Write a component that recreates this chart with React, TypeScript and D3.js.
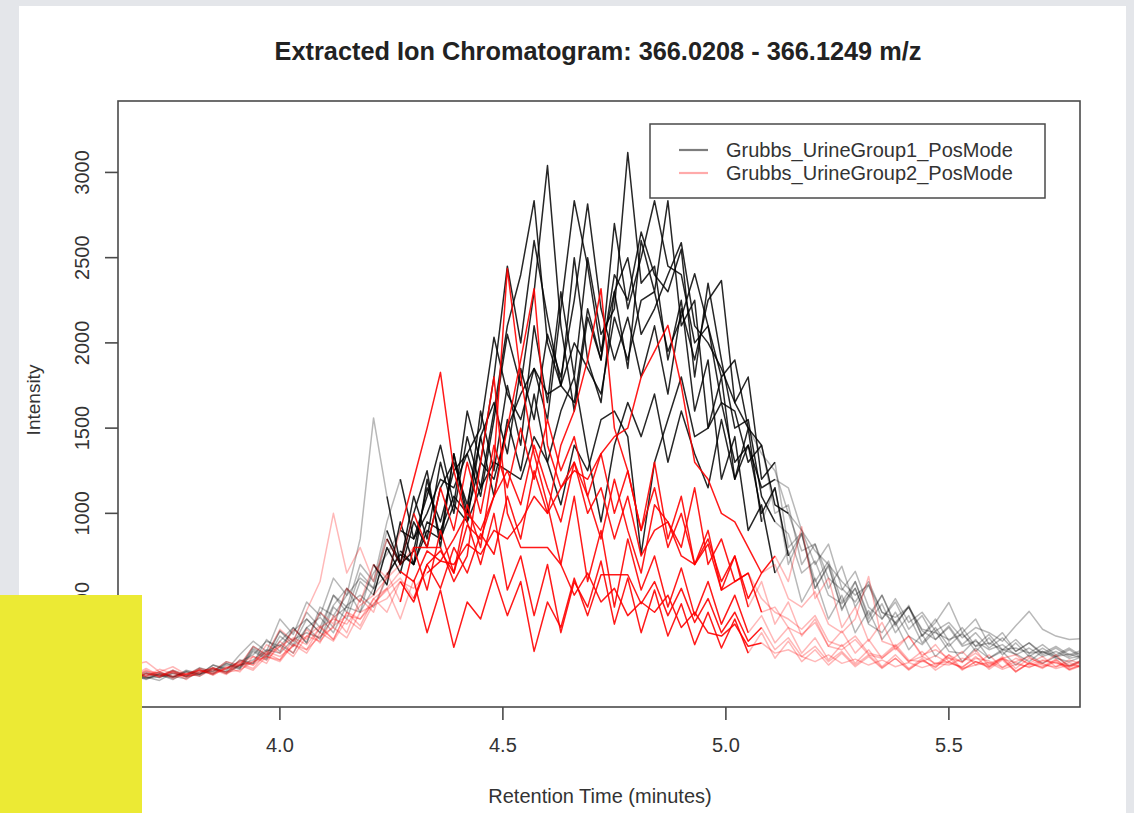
import React from "react";
import * as d3 from "d3";

// ---------- DATA ----------
const title = "Extracted Ion Chromatogram: 366.0208 - 366.1249 m/z";
const xLabel = "Retention Time (minutes)";
const yLabel = "Intensity";
const xTicks = [4.0, 4.5, 5.0, 5.5];
const yTicks = [0, 500, 1000, 1500, 2000, 2500, 3000];
const legendLabels = ["Grubbs_UrineGroup1_PosMode", "Grubbs_UrineGroup2_PosMode"];

// retention times (minutes) of the scans
const times = [
  3.64, 3.67, 3.70, 3.73, 3.76, 3.79, 3.82, 3.85, 3.88, 3.91,
  3.94, 3.97, 4.00, 4.03, 4.06, 4.09, 4.12, 4.15, 4.18, 4.21,
  4.24, 4.27, 4.30, 4.33, 4.36, 4.39, 4.42, 4.45, 4.48, 4.51,
  4.54, 4.57, 4.60, 4.63, 4.66, 4.69, 4.72, 4.75, 4.78, 4.81,
  4.84, 4.87, 4.90, 4.93, 4.96, 4.99, 5.02, 5.05, 5.08, 5.11,
  5.14, 5.17, 5.20, 5.23, 5.26, 5.29, 5.32, 5.35, 5.38, 5.41,
  5.44, 5.47, 5.50, 5.53, 5.56, 5.59, 5.62, 5.65, 5.68, 5.71,
  5.74, 5.77, 5.80,
];

// Group 1 (black)
const g1s1 = [40,65,30,55,25,70,45,95,70,140, 120,260,190,330,240,420,330,560,420,700, 580,950,700,1200,850,1350,1000,1600,1250,1750, 1400,2100,1650,2300,1800,2500,2050,2200,3117,2350, 2450,1900,2250,1600,1900,1200,1450,900,1050,650, 780,480,620,380,520,300,430,260,360,200, 290,160,240,130,210,150,190,110,170,120, 160,105,140];
const g1s2 = [45,30,60,50,35,80,60,75,120,95, 210,160,250,330,240,450,400,520,620,560, 850,700,780,1150,950,1250,1350,1100,1550,2050, 1750,2300,3040,2100,1600,2150,1900,2400,2250,2650, 2400,2300,2550,1800,2350,1900,1500,1550,1100,950, 880,650,720,520,470,560,350,300,420,280, 230,310,190,180,260,150,200,175,130,190, 150,130,160];
const g1s3 = [50,30,60,35,75,40,90,60,120,90, 200,150,310,230,380,300,520,420,650,560, 900,700,1100,850,1300,1000,1450,1150,1600,2100, 2400,2834,2000,1750,2500,1900,1650,2300,1850,2600, 2300,2834,2100,2250,1500,1800,1200,1500,950,1150, 700,880,560,690,440,560,360,470,300,400, 240,330,220,300,190,270,170,240,160,210, 160,200,150];
const g1s4 = [45,25,35,60,45,30,70,90,60,110, 120,190,230,180,330,390,300,460,520,450, 620,780,700,950,900,1100,1000,1300,1200,1500, 1700,1850,1550,2200,2834,2450,1950,2300,2500,2050, 2200,2400,2588,2100,2000,1850,1650,1500,1400,1050, 1000,780,820,620,550,660,450,380,500,360, 420,310,360,270,330,300,250,340,425,320, 280,260,265];
const g1s5 = [35,60,40,20,65,45,80,55,110,85, 190,140,280,220,330,260,450,380,600,520, 800,650,950,800,1150,1300,1050,1450,1650,1350, 1850,1550,2050,1800,2250,2815,2200,1900,2150,1800, 2100,1700,2200,1900,2250,2366,1650,1800,1200,1300, 800,886,560,700,430,600,380,520,340,460, 280,360,477,300,380,230,300,190,240,170, 210,160,190];
const g1s6 = [35,55,45,70,40,75,55,110,90,130, 170,250,220,310,380,300,460,560,480,650, 760,900,850,1000,1200,1150,1350,1500,2033,1700, 1550,1850,1700,1750,2000,1850,1700,2150,1900,2250, 2300,1950,2150,2406,2100,1800,1900,1500,1350,1250, 1000,900,700,820,560,480,600,420,360,450, 310,260,330,220,250,200,230,170,210,160, 190,150,165];
const g1s7 = [30,50,25,60,40,70,55,110,80,170, 250,190,380,290,480,400,620,520,850,1560, 1100,700,1000,1250,800,1350,950,1450,1100,1550, 1250,1700,1300,1600,1800,1350,950,1400,1650,1450, 1700,1300,1600,1350,1150,1550,1200,1400,1000,1150, 750,880,600,720,480,600,400,520,350,450, 280,380,250,330,220,290,200,260,180,230, 170,210,160];
const g1s8 = [30,50,35,40,60,45,55,85,70,110, 140,200,180,260,300,270,390,450,420,560, 640,760,700,900,850,1050,950,1150,1300,1250, 1200,1450,1300,1050,1400,1250,1550,1600,1450,760, 1300,1550,1800,1450,1500,1650,1300,1400,1150,1200, 1150,900,780,700,600,520,580,420,390,450, 320,300,260,290,220,240,200,210,180,190, 160,175,150];
const g1s9 = [55,35,70,45,80,50,95,70,130,100, 220,170,310,250,420,330,520,450,700,600, 950,1200,850,1100,1400,1050,1600,1300,1800,2450, 2000,2600,2150,1750,1650,2200,1900,2700,2200,2500, 2834,2450,2400,2000,2100,1650,1600,1300,1400,1000, 1050,700,820,560,690,450,580,380,480,320, 400,260,340,230,300,210,270,190,240,180, 220,170,200];

// Group 2 (red)
const g2s1 = [60,30,80,40,70,25,85,50,100,70, 160,120,250,180,320,240,400,300,500,420, 650,480,800,550,900,650,1050,800,1300,2436, 1800,1350,1050,700,1100,600,900,450,850,550, 750,450,680,400,600,350,520,300,400,240, 330,180,270,140,230,120,200,100,170,90, 150,80,130,95,160,85,140,70,120,95, 130,80,110];
const g2s2 = [55,45,75,60,40,55,80,60,90,130, 110,170,220,160,280,340,260,420,380,470, 550,620,500,700,780,650,930,850,1100,1500, 1900,2318,1400,1150,1300,1000,1150,850,1100,750, 900,950,750,700,820,550,600,650,420,450, 330,290,360,220,200,260,170,150,210,130, 160,120,110,150,130,100,145,125,95,135, 120,100,130];
const g2s3 = [70,45,90,50,75,40,60,95,65,120, 90,180,140,260,200,330,260,420,340,500, 420,600,480,700,560,800,650,880,760,1100, 850,1250,1000,1400,1600,1900,2318,1500,1250,900, 1300,850,1100,700,900,550,750,450,600,350, 480,280,380,220,310,180,260,150,220,130, 190,110,170,125,200,100,160,90,150,120, 170,95,140];
const g2s4 = [70,55,45,85,60,40,65,90,70,80, 130,160,140,230,200,280,330,270,420,460, 500,600,560,650,720,700,820,760,900,850, 950,1100,1000,1150,1250,1200,1350,1450,1500,1800, 1950,2103,1750,1300,1200,1000,950,800,650,700, 500,450,540,350,300,380,630,250,220,280, 170,200,150,130,180,120,150,170,110,140, 125,105,140];
const g2s5 = [45,25,65,40,80,50,70,95,60,140, 110,230,180,320,260,420,350,560,480,700, 620,900,1200,1500,1827,1250,950,700,1000,550, 750,400,700,300,600,450,720,350,620,300, 550,280,470,230,420,210,380,180,300,150, 250,130,200,110,180,100,160,90,150,80, 140,95,170,85,130,110,150,75,120,100, 145,85,120];
const g2s6 = [50,40,60,45,70,55,80,65,95,120, 160,140,220,270,230,330,380,350,460,520, 620,700,800,800,800,600,750,1300,1800,1000, 800,800,800,700,520,650,480,560,400,480, 420,520,330,420,300,280,350,220,240,180, 200,160,130,170,120,145,110,140,100,125, 95,120,130,90,110,125,85,115,100,120, 90,110,100];
const g2s7 = [55,95,40,70,30,60,45,85,55,110, 80,160,130,230,180,300,250,380,320,470, 560,380,610,300,550,214,480,380,640,400, 600,190,480,330,620,400,640,640,640,470, 600,400,560,360,500,300,420,250,330,200, 270,160,220,130,190,110,170,95,150,85, 135,100,155,80,130,95,150,70,125,90, 140,85,110];
const g2s8 = [55,40,50,70,45,60,80,55,90,110, 130,190,160,220,280,250,340,400,380,500, 560,660,600,780,720,850,1000,900,1100,1250, 1050,1400,1150,950,1300,1100,850,1200,900,650, 1050,950,800,1150,700,850,600,650,500,420, 380,320,400,250,220,280,180,160,230,140, 130,165,120,100,150,135,95,130,160,110, 100,125,95];
const g2s9 = [160,110,130,70,100,55,90,75,130,110, 220,170,320,250,430,600,1000,650,800,600, 850,700,1000,800,1150,900,1300,1000,1400,1150, 1500,1200,1550,1250,1450,1100,1350,1000,1250,900, 1150,800,1000,700,850,600,750,500,650,750, 600,922,500,620,330,450,250,360,200,280, 160,230,130,190,110,170,95,150,120,160, 100,140,115];

const group1 = [g1s1, g1s2, g1s3, g1s4, g1s5, g1s6, g1s7, g1s8, g1s9];
const group2 = [g2s1, g2s2, g2s3, g2s4, g2s5, g2s6, g2s7, g2s8, g2s9];

// peak bounds (rtmin / rtmax) per sample – drawn in full colour inside
const group1RtMin = [4.22, 4.25, 4.24, 4.27, 4.22, 4.26, 4.23, 4.24, 4.28];
const group1RtMax = [5.10, 5.12, 5.08, 5.13, 5.11, 5.06, 5.14, 5.12, 5.09];
const group2RtMin = [4.28, 4.30, 4.27, 4.32, 4.26, 4.29, 4.31, 4.28, 4.30];
const group2RtMax = [5.06, 5.08, 5.05, 5.09, 5.04, 5.07, 5.08, 5.06, 5.10];

// ---------- LAYOUT ----------
const W = 1134;
const H = 813;
const plot = { left: 118, right: 1080, top: 101, bottom: 707 };
const FONT = "'Liberation Sans', Arial, Helvetica, sans-serif";

type Run = { inside: boolean; pts: [number, number][] };

function splitRuns(vals: number[], rtmin: number, rtmax: number): Run[] {
  const runs: Run[] = [];
  for (let i = 0; i < vals.length - 1; i++) {
    const mid = (times[i] + times[i + 1]) / 2;
    const inside = mid >= rtmin && mid <= rtmax;
    const last = runs[runs.length - 1];
    if (last && last.inside === inside) {
      last.pts.push([times[i + 1], vals[i + 1]]);
    } else {
      runs.push({ inside, pts: [[times[i], vals[i]], [times[i + 1], vals[i + 1]]] });
    }
  }
  return runs;
}

export default function App() {
  const x = d3.scaleLinear().domain([3.637, 5.794]).range([plot.left, plot.right]);
  const y = d3.scaleLinear().domain([-136, 3419]).range([plot.bottom, plot.top]);
  const line = d3
    .line<[number, number]>()
    .x((d) => x(d[0]))
    .y((d) => y(d[1]));

  const groups = [
    { data: group1, rtmin: group1RtMin, rtmax: group1RtMax, full: "rgba(0,0,0,0.85)", faded: "rgba(0,0,0,0.28)" },
    { data: group2, rtmin: group2RtMin, rtmax: group2RtMax, full: "rgba(255,0,0,0.9)", faded: "rgba(255,0,0,0.28)" },
  ];

  return (
    <svg
      width={W}
      height={H}
      style={{ position: "absolute", left: 0, top: 0, display: "block" }}
      fontFamily={FONT}
    >
      <defs>
        <clipPath id="plotClip">
          <rect x={plot.left} y={plot.top} width={plot.right - plot.left} height={plot.bottom - plot.top} />
        </clipPath>
      </defs>
      <rect x={0} y={0} width={W} height={H} fill="#e4e6ea" />
      <rect x={19} y={6} width={1107} height={H - 6} fill="#ffffff" />

      {/* title */}
      <text x={598} y={60} textAnchor="middle" fontSize={25.3} fontWeight="bold" fill="#222">
        {title}
      </text>

      {/* series */}
      <g clipPath="url(#plotClip)" fill="none" strokeWidth={1.5} strokeLinejoin="round">
        {groups.map((g, gi) =>
          g.data.map((vals, si) =>
            splitRuns(vals, g.rtmin[si], g.rtmax[si]).map((r, ri) => (
              <path
                key={`${gi}-${si}-${ri}`}
                d={line(r.pts) || ""}
                stroke={r.inside ? g.full : g.faded}
              />
            ))
          )
        )}
      </g>

      {/* box */}
      <rect
        x={plot.left}
        y={plot.top}
        width={plot.right - plot.left}
        height={plot.bottom - plot.top}
        fill="none"
        stroke="#4a4a4a"
        strokeWidth={1.6}
      />

      {/* y axis */}
      {yTicks.map((t) => (
        <g key={`y${t}`}>
          <line x1={plot.left - 13} x2={plot.left} y1={y(t)} y2={y(t)} stroke="#4a4a4a" strokeWidth={1.6} />
          <text
            transform={`translate(82,${y(t)}) rotate(-90)`}
            textAnchor="middle"
            dy="0.35em"
            fontSize={20}
            fill="#333"
          >
            {String(t)}
          </text>
        </g>
      ))}
      <text transform={`translate(33,400) rotate(-90)`} textAnchor="middle" dy="0.35em" fontSize={19} fill="#333">
        {yLabel}
      </text>

      {/* x axis */}
      {xTicks.map((t) => (
        <g key={`x${t}`}>
          <line x1={x(t)} x2={x(t)} y1={plot.bottom} y2={plot.bottom + 13} stroke="#4a4a4a" strokeWidth={1.6} />
          <text x={x(t)} y={752} textAnchor="middle" fontSize={20} fill="#333">
            {t.toFixed(1)}
          </text>
        </g>
      ))}
      <text x={600} y={803} textAnchor="middle" fontSize={20} fill="#333">
        {xLabel}
      </text>

      {/* legend */}
      <rect x={650} y={124} width={395} height={74} fill="#fff" stroke="#4a4a4a" strokeWidth={1.5} />
      {legendLabels.map((lab, i) => (
        <g key={lab}>
          <line
            x1={679}
            x2={708}
            y1={150 + i * 23}
            y2={150 + i * 23}
            stroke={i === 0 ? "#7d7d7d" : "#ffaaaa"}
            strokeWidth={2.2}
          />
          <text x={726} y={150 + i * 23} dy="0.35em" fontSize={20} fill="#333">
            {lab}
          </text>
        </g>
      ))}

      {/* yellow overlay box */}
      <rect x={0} y={595} width={142} height={H - 595} fill="#ecea34" />
    </svg>
  );
}
